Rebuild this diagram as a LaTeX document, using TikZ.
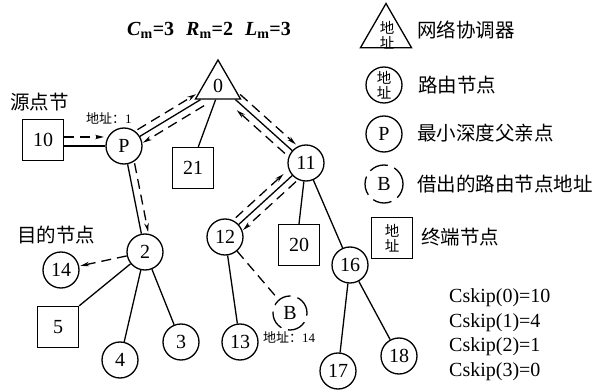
\documentclass[tikz,border=0pt]{standalone}
\usepackage{fontspec}
\setmainfont{Liberation Serif}
\newfontfamily\cjk{Noto Sans CJK SC}
\usetikzlibrary{calc,arrows.meta,shapes.geometric}
\begin{document}
\begin{tikzpicture}[x=1pt,y=-1pt,
  every node/.style={font=\fontsize{20}{20}\selectfont},
  rnode/.style={circle,draw,line width=1.3pt,minimum size=36pt,inner sep=0pt},
  enode/.style={rectangle,draw,line width=1.3pt,minimum size=41pt,inner sep=0pt},
  bnode/.style={circle,draw,line width=1.3pt,minimum size=34pt,inner sep=0pt,dash pattern=on 19pt off 7pt},
  trinode/.style={regular polygon,regular polygon sides=3,draw,line width=1.3pt,inner sep=0pt},
  link/.style={line width=1.3pt},
  dlink/.style={line width=1.3pt,dash pattern=on 10pt off 6pt},
  arr/.style={-{Stealth[length=9pt,width=4.5pt]}},
  cn/.style={font=\cjk\fontsize{19.5}{19.5}\selectfont,inner sep=0pt},
  sn/.style={font=\fontsize{13}{13}\selectfont,inner sep=0pt},
  stack/.style={font=\cjk\fontsize{14.5}{15.5}\selectfont,align=center},
  cs/.style={font=\fontsize{20}{20}\selectfont,inner sep=0pt,anchor=west},
]
\useasboundingbox (0,0) rectangle (603,390);

% title formula
\node[inner sep=0pt] (form) at (209,30) {\bfseries\fontsize{20}{20}\selectfont\textit{C}\textsubscript{m}=3\hspace{0.6em}\textit{R}\textsubscript{m}=2\hspace{0.6em}\textit{L}\textsubscript{m}=3};

% coordinator
\node[trinode,minimum size=52pt] (t0) at (218,86) {0};
\coordinate (tP) at ($(t0.corner 2)!0.13!(t0.corner 3)$);
\coordinate (tR) at ($(t0.corner 3)!0.13!(t0.corner 2)$);
\coordinate (tM) at ($(t0.corner 2)!0.45!(t0.corner 3)$);

% nodes
\node[enode] (n10) at (43,140) {10};
\node[rnode] (nP) at (124,146) {P};
\node[enode] (n21) at (193,168) {21};
\node[rnode] (n11) at (306,163) {11};
\node[rnode] (n2) at (145,252) {2};
\node[rnode] (n12) at (225,237) {12};
\node[enode] (n20) at (299,245) {20};
\node[rnode] (n14) at (61,270) {14};
\node[enode] (n5) at (58,327) {5};
\node[rnode] (n4) at (120,360) {4};
\node[rnode] (n3) at (181,342) {3};
\node[rnode] (n13) at (240,342) {13};
\node[bnode] (nB) at (290,313) {B};
\node[rnode] (n16) at (350,265) {16};
\node[rnode] (n17) at (338,371) {17};
\node[rnode] (n18) at (399,356) {18};

% solid links
\draw[link] (n10.east |- nP) -- (nP);
\draw[link] (nP) -- (tP);
\draw[link] (tM) -- ($(n21.north)!0.25!(n21.north east)$);
\draw[link] (tR) -- (n11);
\draw[link] (nP) -- (n2);
\draw[link] (n11) -- (n12);
\draw[link] (n11) -- (n20.north);
\draw[link] (n11) -- (n16);
\draw[link] (n2) -- (n5.north east);
\draw[link] (n2) -- (n4);
\draw[link] (n2) -- (n3);
\draw[link] (n12) -- (n13);
\draw[link] (n16) -- (n17);
\draw[link] (n16) -- (n18);

% dashed message paths
\draw[dlink,arr] ($(n10.east |- nP)+(0,-9)$) -- ($(nP)+(-20,-9)$);
\draw[dlink,arr,shorten <=20pt,shorten >=1pt] ($(nP)!7pt!90:(tP)$) -- ($(tP)!7pt!-90:(nP)$);
\draw[dlink,arr,shorten >=18pt] ($(tP)!7pt!90:(nP)$) -- ($(nP)!7pt!-90:(tP)$);
\draw[dlink,arr,shorten >=20pt] ($(tR)!7pt!90:(n11)$) -- ($(n11)!7pt!-90:(tR)$);
\draw[dlink,arr,shorten <=22pt,shorten >=8pt] ($(n11)!7pt!90:(tR)$) -- ($(tR)!7pt!-90:(n11)$);
\draw[dlink,arr,shorten <=21pt,shorten >=24pt] ($(n12)!7pt!90:(n11)$) -- ($(n11)!7pt!-90:(n12)$);
\draw[dlink,arr,shorten <=20pt,shorten >=18pt] ($(n11)!7pt!90:(n12)$) -- ($(n12)!7pt!-90:(n11)$);
\draw[dlink,arr,shorten <=19pt,shorten >=19pt] ($(nP)!7pt!90:(n2)$) -- ($(n2)!7pt!-90:(nP)$);
\draw[dlink,arr,shorten >=1pt] (n2) -- (n14);
\draw[dlink] (n12) -- (nB);

% labels
\node[cn,anchor=west] (lsrc) at (10,102) {源点节};
\node[sn,anchor=west] (la1) at (86,118) {{\cjk 地址：}1};
\node[cn,anchor=west] (ldst) at (17,235) {目的节点};
\node[sn,anchor=west] (la14) at (263,337) {{\cjk 地址：}14};

% legend
\node[trinode,minimum size=59pt] (lgT) at (386,33) {};
\node[stack,inner sep=0pt] (lgTt) at (387,35) {地\\址};
\node[rnode,stack] (lgR) at (384,85) {地\\址};
\node[rnode] (lgP) at (384,134) {P};
\node[bnode,minimum size=38pt] (lgB) at (384,184) {B};
\node[enode,stack] (lgE) at (392,238) {地\\址};
\node[cn,anchor=west] (lgTl) at (417,30) {网络协调器};
\node[cn,anchor=west] (lgRl) at (418,85) {路由节点};
\node[cn,anchor=west] (lgPl) at (417,133) {最小深度父亲点};
\node[cn,anchor=west] (lgBl) at (417,184) {借出的路由节点地址};
\node[cn,anchor=west] (lgEl) at (421,237) {终端节点};

% Cskip values
\node[cs] (cs0) at (449,298) {Cskip(0)=10};
\node[cs] (cs1) at (449,323) {Cskip(1)=4};
\node[cs] (cs2) at (449,347) {Cskip(2)=1};
\node[cs] (cs3) at (449,372) {Cskip(3)=0};
\end{tikzpicture}
\end{document}
